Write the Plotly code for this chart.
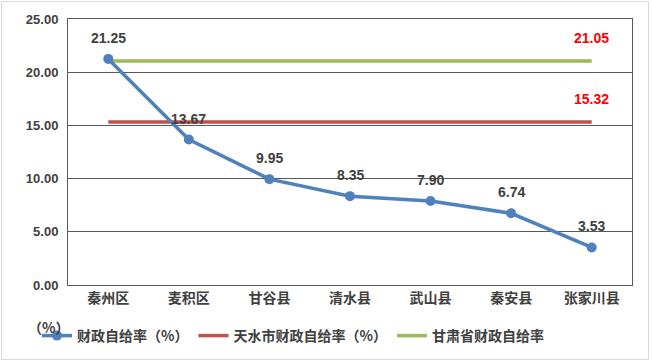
import plotly.graph_objects as go

categories = ["秦州区", "麦积区", "甘谷县", "清水县", "武山县", "秦安县", "张家川县"]
county_ratio = [21.25, 13.67, 9.95, 8.35, 7.90, 6.74, 3.53]
tianshui_ratio = 15.32
gansu_ratio = 21.05
series_names = ["财政自给率（%）", "天水市财政自给率（%）", "甘肃省财政自给率"]
y_ticks = [0, 5, 10, 15, 20, 25]

W, H = 652, 362
L, R, T, B = 68, 20, 19, 77
pw, ph = W - L - R, H - T - B

def px2paper_x(px):
    return (px - L) / pw

def px2paper_y(py):
    return (H - B - py) / ph

num_family = "Liberation Sans, Arial"
cjk = "Noto Sans CJK SC"

fig = go.Figure()

red_vals = [tianshui_ratio] * len(categories)
fig.add_trace(go.Scatter(
    x=categories, y=red_vals, name=f"<b>{series_names[1]}</b>", legendrank=2,
    mode="lines",
    line=dict(color="#C0504D", width=3.5),
))

green_vals = [gansu_ratio] * len(categories)
fig.add_trace(go.Scatter(
    x=categories, y=green_vals, name=f"<b>{series_names[2]}</b>", legendrank=3,
    mode="lines",
    line=dict(color="#9BBB59", width=3.5),
))

fig.add_trace(go.Scatter(
    x=categories, y=county_ratio, name=f"<b>{series_names[0]}</b>", legendrank=1,
    mode="lines+markers",
    line=dict(color="#4F81BD", width=3.5),
    marker=dict(color="#4F81BD", size=10),
))

for c, v in zip(categories, county_ratio):
    fig.add_annotation(
        x=c, y=v, yshift=21, showarrow=False,
        text=f"<b>{v:.2f}</b>",
        font=dict(family=num_family, size=14, color="#404040"),
    )

for val in (tianshui_ratio, gansu_ratio):
    fig.add_annotation(
        x=categories[-1], y=val, yshift=23, showarrow=False,
        text=f"<b>{val:.2f}</b>",
        font=dict(family=num_family, size=14, color="#FF0000"),
    )

fig.update_layout(
    width=W, height=H,
    margin=dict(l=L, r=R, t=T, b=B, autoexpand=False),
    paper_bgcolor="white", plot_bgcolor="white",
    showlegend=True,
    legend=dict(
        orientation="h", x=px2paper_x(37), y=px2paper_y(336),
        xanchor="left", yanchor="middle",
        font=dict(family=cjk, size=14, color="#404040"),
        traceorder="normal",
        itemwidth=30,
    ),
    xaxis=dict(
        type="category", range=[-0.5, 6.5],
        showgrid=False, showline=True, linecolor="#595959", linewidth=1, mirror=True,
        ticks="", tickfont=dict(family=cjk, size=14, color="#404040"),
        tickvals=categories, ticktext=[f"<b>{c}</b>" for c in categories],
        fixedrange=True, automargin=False,
    ),
    yaxis=dict(
        range=[0, 25], tickvals=y_ticks,
        ticktext=[f"<b>{v:.2f}</b>" for v in y_ticks],
        showgrid=True, gridcolor="#595959", gridwidth=1,
        showline=True, linecolor="#595959", linewidth=1, mirror=True,
        ticks="", ticklabelstandoff=6, automargin=False,
        tickfont=dict(family=num_family, size=13, color="#404040"), zeroline=False,
    ),
)

fig.add_annotation(
    text="<b>（%）</b>", xref="paper", yref="paper",
    x=px2paper_x(26), y=px2paper_y(327), xanchor="left", yanchor="middle",
    showarrow=False, font=dict(family=cjk, size=14, color="#404040"),
)

fig.add_shape(
    type="rect", xref="paper", yref="paper",
    x0=px2paper_x(1.5), x1=px2paper_x(648.5), y0=px2paper_y(359.5), y1=px2paper_y(1.5),
    line=dict(color="#D9D9D9", width=1), fillcolor="rgba(0,0,0,0)", layer="below",
)

fig.write_html(
    "out.html",
    config={"displayModeBar": False},
    post_script="document.body.style.margin='0px';document.body.style.padding='0px';",
)
